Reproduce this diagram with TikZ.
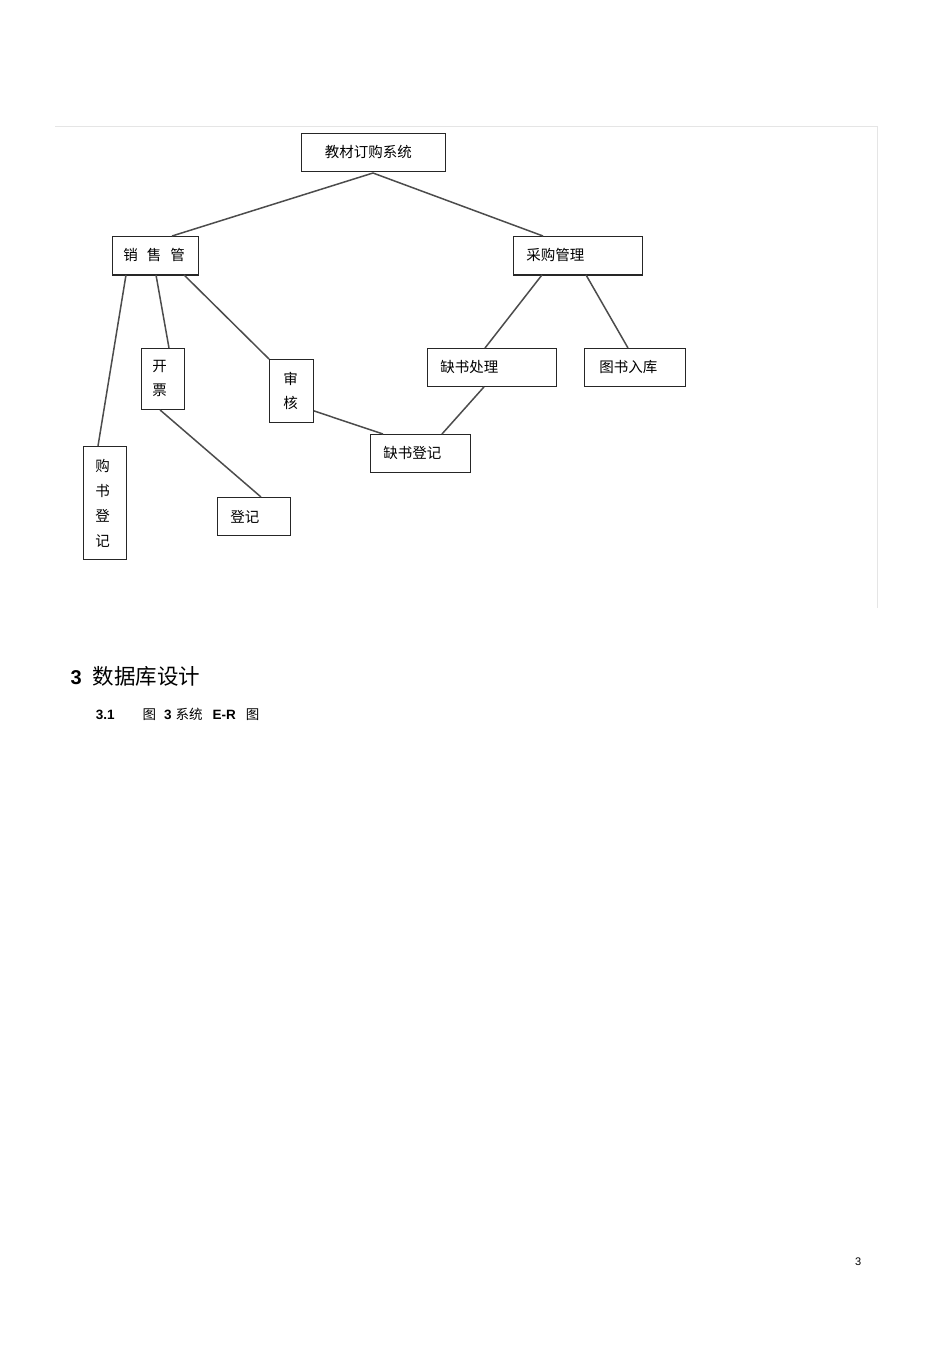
\documentclass[tikz,border=0pt]{standalone}
\usepackage{fontspec}
\setmainfont{Liberation Sans}
\newfontfamily\cjk{Noto Sans CJK SC}

\tikzset{
  box/.style={draw=black!85, line width=0.9pt, anchor=north west, inner ysep=0pt,
              font=\cjk\fontsize{14.5}{24}\selectfont},
  hbox/.style={box, align=left},
  vbox/.style={box, align=left},
  link/.style={draw=black!70, line width=1.5pt},
  frameline/.style={draw=black!10, line width=1pt},
}

\begin{document}
\begin{tikzpicture}[x=1pt, y=-1pt]
    \useasboundingbox (0,0) rectangle (950,1345);

    % page frame
    \draw[frameline] (55,126) -- (877,126) -- (877,608);

    % root
    \node[hbox, minimum height=38pt, text width=97pt, inner xsep=23.5pt] (root) at (301,133) {教材订购系统};
    \coordinate (apex) at (373,173);

    % first level
    \node[hbox, minimum height=38pt, text width=64pt, inner xsep=11pt] (xiaoshou) at (112,236) {销\hspace{9pt}售\hspace{9pt}管};
    \node[hbox, minimum height=38pt, text width=103pt, inner xsep=13pt] (caigou) at (513,236) {采购管理};
    \draw[line width=1.8pt, black!85] (xiaoshou.south west) -- (xiaoshou.south east);
    \draw[line width=1.8pt, black!85] (caigou.south west) -- (caigou.south east);

    % under sales
    \node[vbox, minimum height=61pt, text width=21pt, inner xsep=11pt] (kaipiao) at (141,348) {开\\票};
    \node[vbox, minimum height=63pt, text width=16pt, inner xsep=14pt] (shenhe) at (269,359) {审\\核};
    \node[vbox, minimum height=113pt, text width=19pt, inner xsep=12pt, font=\cjk\fontsize{14.5}{25}\selectfont] (goushu) at (83,446) {购\\书\\登\\记};
    \node[hbox, minimum height=38pt, text width=47pt, inner xsep=13pt] (dengji) at (217,497) {登记};

    % under purchasing
    \node[hbox, minimum height=38pt, text width=103pt, inner xsep=13pt] (quechuli) at (427,348) {缺书处理};
    \node[hbox, minimum height=38pt, text width=71pt, inner xsep=15pt] (ruku) at (584,348) {图书入库};
    \node[hbox, minimum height=38pt, text width=74pt, inner xsep=13pt] (quedengji) at (370,434) {缺书登记};

    % links
    \draw[link] (apex) -- ([xshift=60pt]xiaoshou.north west);
    \draw[link] (apex) -- ([xshift=30pt]caigou.north west);
    \draw[link] ([xshift=14pt]xiaoshou.south west) -- ([xshift=15pt]goushu.north west);
    \draw[link] ([xshift=44pt]xiaoshou.south west) -- ([xshift=28pt]kaipiao.north west);
    \draw[link] ([xshift=72pt]xiaoshou.south west) -- (shenhe.north west);
    \draw[link] ([xshift=19pt]kaipiao.south west) -- ([xshift=44pt]dengji.north west);
    \draw[link] ([yshift=12pt]shenhe.south east) -- ([xshift=13pt]quedengji.north west);
    \draw[link] ([xshift=57pt]quechuli.south west) -- ([xshift=72pt]quedengji.north west);
    \draw[link] ([xshift=29pt]caigou.south west) -- ([xshift=58pt]quechuli.north west);
    \draw[link] ([xshift=73pt]caigou.south west) -- ([xshift=44pt]ruku.north west);

    % section text
    \node[anchor=base west, inner sep=0pt, font=\fontsize{20}{24}\selectfont] (sec) at (70.5,684)
        {\textbf{3}\hspace{11pt}{\cjk\fontsize{21.5}{24}\selectfont 数据库设计}};
    \node[anchor=base west, inner sep=0pt, font=\fontsize{13.5}{16}\selectfont] (subsec) at (95.7,719)
        {\textbf{3.1}\hspace{28pt}{\cjk 图}\hspace{8pt}\textbf{3}\hspace{4pt}{\cjk 系统}\hspace{10pt}\textbf{E-R}\hspace{10pt}{\cjk 图}};
    \node[anchor=base west, inner sep=0pt, font=\fontsize{11}{13}\selectfont] (pagenum) at (855,1265) {3};
\end{tikzpicture}
\end{document}
